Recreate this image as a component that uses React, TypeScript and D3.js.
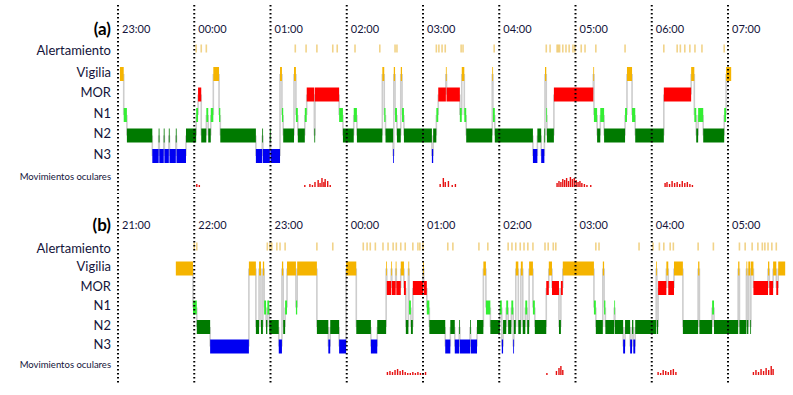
import * as d3 from "d3";
import { useEffect, useRef } from "react";

// stage rows, top to bottom
const stageCodes = ["W", "R", "N1", "N2", "N3"];
const stageLabels = ["Vigilia", "MOR", "N1", "N2", "N3"];
const stageColors = ["#f5b400", "#ff0000", "#33ee33", "#007a00", "#0000f2"];

const hoursA = ["23:00", "00:00", "01:00", "02:00", "03:00", "04:00", "05:00", "06:00", "07:00"];
const hoursB = ["21:00", "22:00", "23:00", "00:00", "01:00", "02:00", "03:00", "04:00", "05:00"];

// [start minute after first hour mark, stage]; each epoch lasts until the next one
const hypnoA: [number, string][] = [
  [1.5, "W"], [4.5, "N1"], [7, "N2"], [27, "N3"], [32, "N2"], [32.5, "N3"], [36, "N2"], [36.5, "N3"],
  [40, "N2"], [40.5, "N3"], [45.5, "N2"], [46, "N3"], [53.5, "N2"], [61.5, "N1"], [63, "R"], [65.5, "N2"],
  [69.5, "N1"], [71, "N2"], [73, "N1"], [75, "W"], [79.5, "N1"], [80.5, "N2"], [108.5, "N3"], [113.5, "N2"],
  [114, "N3"], [119.5, "N2"], [120, "N3"], [127.5, "W"], [129, "N1"], [130, "N2"], [138.5, "W"], [140, "N1"],
  [141.5, "N2"], [147, "N1"], [148.5, "R"], [154.5, "N2"], [155, "R"], [174, "N1"], [177, "N2"], [185.5, "N1"],
  [188, "N2"], [208, "W"], [209.5, "N1"], [210.5, "N2"], [216.5, "N3"], [217, "W"], [218, "N1"], [219.5, "N2"],
  [222.5, "W"], [223.5, "N1"], [225, "N2"], [247, "N3"], [248, "N2"], [250.5, "N1"], [252, "R"], [258, "W"],
  [258.5, "R"], [269, "N1"], [270.5, "W"], [272.5, "N1"], [274, "N2"], [294.5, "W"], [295, "N1"], [296.5, "N2"],
  [326.5, "N3"], [330, "N2"], [333, "N3"], [335.5, "N2"], [336, "W"], [337, "N1"], [337.5, "N2"], [343, "R"],
  [374, "W"], [374.5, "N1"], [377, "N2"], [379.5, "N1"], [382.5, "N2"], [399, "N1"], [400.5, "W"], [404.5, "N1"],
  [407, "N2"], [429.5, "R"], [451, "W"], [453.5, "N1"], [455, "N2"], [456.5, "N1"], [460.5, "N2"], [477, "N1"],
  [478.5, "W"],
];
const endA = 482.5;

const hypnoB: [number, string][] = [
  [45.5, "W"], [59, "N1"], [62, "N2"], [72.5, "N3"], [103, "W"], [108.5, "N2"], [111, "W"], [112.5, "N2"],
  [114, "W"], [115, "N1"], [116.5, "N2"], [117.5, "N1"], [119, "N2"], [126.5, "N3"], [129, "W"], [130, "N2"],
  [131.5, "N1"], [133, "W"], [140, "N1"], [141, "W"], [156.5, "N2"], [165.5, "N3"], [167, "N2"], [174, "N3"],
  [179.5, "W"], [187.5, "N2"], [199, "N3"], [204, "N2"], [211, "W"], [211.5, "R"], [215, "W"], [215.5, "R"],
  [218.5, "W"], [219, "R"], [222.5, "W"], [225, "R"], [226.5, "N2"], [228.5, "W"], [229, "N1"], [230.5, "N2"],
  [232, "R"], [240, "W"], [240.5, "R"], [243, "N1"], [245, "N2"], [257.5, "N3"], [261.5, "N2"], [265, "N3"],
  [268.5, "N2"], [269, "N3"], [277, "N2"], [277.5, "N3"], [282.5, "N2"], [287.5, "W"], [289.5, "N1"], [293, "N2"],
  [300.5, "N1"], [302, "N3"], [303, "N2"], [305.5, "N1"], [307, "N2"], [309.5, "N1"], [311, "N3"], [311.5, "N2"],
  [313, "W"], [315, "N2"], [317, "W"], [318.5, "N2"], [320.5, "N1"], [322, "N2"], [323.5, "W"], [326.5, "N1"],
  [328, "N2"], [337, "R"], [339, "W"], [341.5, "R"], [347, "N2"], [348.5, "R"], [350, "W"], [374.5, "N1"],
  [376, "N2"], [381.5, "W"], [382.5, "N1"], [383.5, "N2"], [390.5, "N1"], [391, "N2"], [397.5, "N3"], [399, "N2"],
  [403, "N3"], [404.5, "N2"], [405.5, "N3"], [407, "N2"], [423.5, "W"], [424, "N2"], [425, "R"], [431.5, "W"],
  [433, "R"], [437.5, "W"], [444.5, "N2"], [456.5, "W"], [457.5, "N2"], [467.5, "N1"], [469, "N2"], [488, "W"],
  [489, "N2"], [494.5, "W"], [495, "N2"], [496, "W"], [497.5, "N2"], [498, "W"], [500, "R"], [511.5, "W"],
  [512.5, "R"], [515.5, "W"], [518, "R"], [519.5, "W"],
];
const endB = 525;

// arousal (Alertamiento) marks, minutes
const alertsA = [
  61.5, 65.5, 69.5, 139.5, 148, 156.5, 169, 172.5, 186.5, 206, 218, 219.5, 250.5, 252.5, 255, 257.5,
  270, 271.5, 296, 337, 340, 345.5, 346.5, 347.5, 350, 352.5, 355, 358, 359.5, 364.5, 367.5, 376, 399,
  429.5, 440, 442.5, 446, 450, 454, 459.5, 477,
];
const alertsB = [
  60, 62, 117.5, 119.5, 121, 125, 127.5, 131.5, 156.5, 169, 193, 196, 198.5, 202.5, 208.5, 212.5, 216.5,
  219, 222.5, 226, 232, 236, 237.5, 240, 259.5, 263.5, 284, 291, 307, 310, 313, 316.5, 319.5, 322.5, 326.5,
  336, 338.5, 342.5, 344.5, 376, 378.5, 410, 421, 426, 429.5, 434.5, 437, 456.5, 468.5, 489, 493.5, 499,
  503.5, 507, 509, 511.5, 514.5, 518,
];

// eye movements: [minute, relative amplitude]
const eyeA: [number, number][] = [
  [62, 0.3], [64, 0.2], [147, 0.2], [151, 0.3], [153, 0.2], [155, 0.5], [157.5, 0.7], [159, 0.4], [160.5, 0.9],
  [162, 0.5], [163, 0.8], [165, 0.6], [167, 0.2], [253.5, 0.3], [256, 0.9], [257.5, 0.5], [260, 0.6], [263, 0.2],
  [265.5, 0.3], [345.5, 0.4], [347, 0.6], [348.5, 0.5], [350, 0.8], [351.5, 0.7], [353, 0.9], [354.5, 0.6],
  [356, 1.0], [357.5, 0.8], [359, 0.9], [360.5, 0.7], [362, 0.5], [363.5, 0.6], [365, 0.4], [367, 0.3],
  [369, 0.2], [372, 0.2], [430.5, 0.4], [432, 0.5], [434, 0.3], [436, 0.6], [438, 0.4], [440, 0.5], [442, 0.3],
  [444, 0.6], [446, 0.4], [448, 0.5], [450, 0.3], [452, 0.2],
];
const eyeB: [number, number][] = [
  [212, 0.3], [214, 0.4], [216, 0.3], [218, 0.5], [220, 0.6], [222, 0.4], [224, 0.5], [226, 0.3], [228, 0.2],
  [230, 0.2], [232, 0.3], [234, 0.2], [236, 0.3], [238, 0.2], [240, 0.2], [242, 0.3], [337.5, 0.2], [345, 0.4],
  [347, 0.7], [348.5, 0.9], [350, 0.5], [425, 0.3], [427, 0.2], [429, 0.5], [431, 0.4], [433, 0.3], [435, 0.5],
  [437, 0.6], [439, 0.3], [500, 0.3], [502, 0.5], [504, 0.3], [506, 0.6], [508, 0.4], [510, 0.7], [512, 0.5],
  [514, 0.9], [515.5, 0.6],
];

const panels = [
  { tag: "(a)", hours: hoursA, hypno: hypnoA, end: endA, alerts: alertsA, eye: eyeA,
    rows: [74, 156], alertY: 48.5, eyeBase: 187, timeY: 29, lineTop: 5, lineBottom: 194 },
  { tag: "(b)", hours: hoursB, hypno: hypnoB, end: endB, alerts: alertsB, eye: eyeB,
    rows: [268.5, 346.5], alertY: 246.5, eyeBase: 375, timeY: 225, lineTop: 197, lineBottom: 383 },
];

const App = () => {
  const ref = useRef<SVGSVGElement>(null);

  useEffect(() => {
    const svg = d3.select(ref.current);
    svg.selectAll("*").remove();
    const font = "Lato, 'Noto Sans', sans-serif";
    const ink = "#14143a";

    const x = d3.scaleLinear().domain([0, 480]).range([118, 728]);

    panels.forEach((p) => {
      const g = svg.append("g");
      const y = d3.scalePoint<string>().domain(stageCodes).range(p.rows as [number, number]);
      const amp = d3.scaleLinear().domain([0, 1]).range([0, 10]);
      const color = d3.scaleOrdinal<string, string>().domain(stageCodes).range(stageColors);

      const segs = p.hypno.map((d, i) => ({
        start: d[0],
        end: i < p.hypno.length - 1 ? p.hypno[i + 1][0] : p.end,
        stage: d[1],
        prev: i > 0 ? p.hypno[i - 1][1] : null,
      }));

      // gray transition lines behind the bars
      g.selectAll("line.tr")
        .data(segs.filter((s) => s.prev))
        .enter()
        .append("line")
        .attr("x1", (d) => x(d.start))
        .attr("x2", (d) => x(d.start))
        .attr("y1", (d) => y(d.prev as string)!)
        .attr("y2", (d) => y(d.stage)!)
        .attr("stroke", "#cdcdcd")
        .attr("stroke-width", 1.6);

      g.selectAll("rect.st")
        .data(segs)
        .enter()
        .append("rect")
        .attr("x", (d) => x(d.start))
        .attr("width", (d) => Math.max(0.8, x(d.end) - x(d.start)))
        .attr("y", (d) => y(d.stage)! - 7)
        .attr("height", 14)
        .attr("fill", (d) => color(d.stage));

      g.selectAll("rect.al")
        .data(p.alerts)
        .enter()
        .append("rect")
        .attr("x", (d) => x(d) - 0.8)
        .attr("width", 1.6)
        .attr("y", p.alertY - 4)
        .attr("height", 8)
        .attr("fill", "#e8b53a")
        .attr("opacity", 0.6);

      g.selectAll("rect.eye")
        .data(p.eye)
        .enter()
        .append("rect")
        .attr("x", (d) => x(d[0]) - 0.7)
        .attr("width", 1.4)
        .attr("y", (d) => p.eyeBase - amp(d[1]))
        .attr("height", (d) => amp(d[1]))
        .attr("fill", "#e51010");

      // labels
      const labelX = 111;
      g.append("text")
        .attr("x", labelX).attr("y", p.timeY).attr("dy", "0.35em")
        .attr("text-anchor", "end").attr("font-family", font)
        .attr("font-size", 17).attr("font-weight", 700).attr("fill", "#000")
        .text(p.tag);
      g.append("text")
        .attr("x", labelX).attr("y", p.alertY + 1.5).attr("dy", "0.35em")
        .attr("text-anchor", "end").attr("font-family", font)
        .attr("font-size", 13).attr("fill", ink)
        .text("Alertamiento");
      g.selectAll("text.stage")
        .data(stageCodes)
        .enter()
        .append("text")
        .attr("x", labelX)
        .attr("y", (d) => y(d)! - 2)
        .attr("dy", "0.35em")
        .attr("text-anchor", "end")
        .attr("font-family", font)
        .attr("font-size", 13)
        .attr("fill", ink)
        .text((d, i) => stageLabels[i]);
      g.append("text")
        .attr("x", labelX).attr("y", p.eyeBase - 10).attr("dy", "0.35em")
        .attr("text-anchor", "end").attr("font-family", font)
        .attr("font-size", 9.5).attr("fill", ink)
        .text("Movimientos oculares");

      // hour marks
      g.selectAll("line.hr")
        .data(p.hours)
        .enter()
        .append("line")
        .attr("x1", (d, i) => x(i * 60))
        .attr("x2", (d, i) => x(i * 60))
        .attr("y1", p.lineTop)
        .attr("y2", p.lineBottom)
        .attr("stroke", "#000")
        .attr("stroke-width", 2)
        .attr("stroke-dasharray", "1.5 2.5");
      g.selectAll("text.hr")
        .data(p.hours)
        .enter()
        .append("text")
        .attr("x", (d, i) => x(i * 60) + 4)
        .attr("y", p.timeY)
        .attr("dy", "0.35em")
        .attr("font-family", font)
        .attr("font-size", 11)
        .attr("fill", ink)
        .text((d) => d);
    });
  }, []);

  return (
    <svg
      ref={ref}
      width={793}
      height={395}
      style={{ position: "absolute", left: 0, top: 0, background: "#fff" }}
    />
  );
};

export default App;
